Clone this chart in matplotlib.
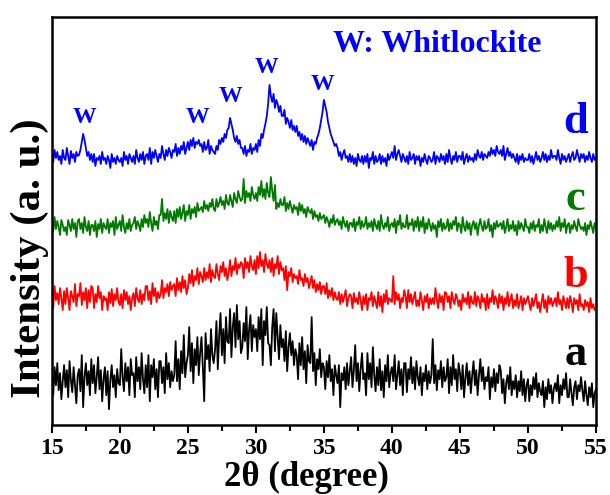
import numpy as np
import matplotlib
matplotlib.use("Agg")
import matplotlib.pyplot as plt
from matplotlib.ticker import MultipleLocator

plt.rcParams['font.family'] = ['Liberation Serif', 'DejaVu Serif']
plt.rcParams['font.weight'] = 'bold'

# 2-theta grid, 0.1 degree steps from 15 to 55 (one row = one degree)
two_theta = np.round(np.arange(15, 55.001, 0.1), 1)

# sample a (black)
int_a = [48, 30, 58, 40, 62, 35, 52, 26, 44, 60,
         38, 55, 28, 64, 45, 33, 58, 40, 22, 50,
         56, 34, 70, 18, 48, 62, 40, 54, 30, 66,
         42, 60, 32, 48, 68, 36, 55, 24, 46, 58,
         30, 54, 16, 45, 60, 38, 50, 28, 56, 42,
         40, 76, 48, 34, 62, 44, 58, 30, 66, 50,
         52, 28, 68, 44, 58, 36, 72, 46, 32, 60,
         38, 70, 24, 60, 48, 66, 36, 56, 28, 64,
         64, 42, 58, 32, 72, 46, 62, 38, 54, 44,
         50, 84, 44, 66, 36, 74, 52, 90, 48, 62,
         70, 98, 54, 82, 42, 76, 60, 88, 50, 72,
         88, 58, 24, 92, 66, 80, 54, 96, 70, 62,
         76, 104, 56, 90, 112, 70, 96, 62, 108, 84,
         82, 116, 68, 98, 112, 78, 120, 86, 104, 72,
         78, 102, 84, 118, 66, 96, 110, 74, 100, 88,
         96, 74, 108, 86, 116, 60, 104, 90, 118, 82,
         80, 60, 98, 116, 74, 112, 88, 66, 100, 78,
         86, 64, 94, 54, 78, 92, 70, 84, 60, 76,
         70, 46, 82, 60, 88, 56, 74, 42, 80, 64,
         62, 108, 54, 72, 40, 66, 56, 76, 48, 62,
         58, 36, 64, 48, 70, 44, 56, 30, 60, 50,
         42, 60, 18, 52, 45, 58, 36, 62, 40, 54,
         68, 38, 55, 80, 44, 62, 34, 56, 72, 46,
         52, 30, 72, 46, 62, 38, 78, 50, 34, 58,
         40, 66, 35, 54, 28, 60, 44, 70, 38, 52,
         58, 44, 70, 36, 50, 64, 40, 56, 30, 62,
         62, 33, 56, 46, 68, 42, 58, 36, 64, 48,
         40, 58, 30, 52, 44, 60, 36, 54, 42, 50,
         86, 42, 60, 35, 55, 46, 64, 38, 58, 44,
         48, 66, 32, 58, 40, 70, 46, 56, 34, 62,
         52, 36, 60, 28, 47, 62, 40, 54, 32, 50,
         64, 40, 55, 30, 50, 66, 44, 58, 36, 48,
         44, 58, 26, 48, 38, 56, 34, 52, 42, 60,
         55, 32, 46, 22, 42, 50, 36, 58, 30, 44,
         36, 50, 28, 44, 34, 54, 30, 46, 24, 40,
         46, 24, 40, 30, 48, 36, 52, 28, 42, 34,
         30, 44, 18, 38, 26, 46, 32, 40, 22, 36,
         42, 34, 50, 22, 40, 30, 46, 36, 52, 28,
         28, 46, 32, 20, 38, 44, 26, 40, 34, 48,
         35, 24, 44, 30, 20, 38, 28, 42, 18, 32,
         36]

# sample b (red)
int_b = [48, 30, 52, 38, 45, 34, 50, 40, 28, 47,
         34, 50, 40, 28, 47, 42, 36, 54, 32, 44,
         42, 55, 33, 46, 38, 50, 30, 48, 36, 52,
         50, 30, 44, 36, 52, 40, 46, 28, 42, 38,
         40, 28, 46, 35, 49, 32, 44, 38, 50, 36,
         33, 44, 30, 48, 38, 46, 34, 42, 28, 40,
         45, 32, 50, 40, 36, 48, 34, 44, 38, 52,
         52, 38, 47, 34, 55, 42, 50, 36, 46, 40,
         44, 58, 40, 50, 46, 54, 42, 56, 48, 52,
         54, 42, 60, 48, 56, 46, 62, 50, 58, 44,
         50, 64, 55, 68, 52, 62, 58, 70, 54, 66,
         62, 56, 70, 58, 66, 60, 74, 56, 68, 62,
         60, 74, 64, 58, 72, 66, 76, 62, 70, 58,
         66, 78, 62, 72, 68, 80, 64, 74, 70, 76,
         74, 60, 80, 70, 76, 66, 82, 72, 68, 78,
         64, 82, 70, 86, 72, 78, 66, 84, 74, 70,
         78, 66, 80, 62, 74, 70, 82, 64, 76, 68,
         70, 58, 72, 48, 66, 62, 70, 56, 64, 60,
         62, 54, 68, 58, 60, 52, 64, 56, 60, 50,
         56, 62, 50, 58, 46, 54, 48, 56, 44, 52,
         52, 44, 55, 40, 48, 42, 50, 38, 46, 40,
         38, 46, 34, 44, 36, 42, 48, 32, 40, 44,
         42, 30, 45, 36, 40, 34, 46, 38, 28, 42,
         34, 44, 28, 40, 38, 46, 32, 42, 36, 30,
         46, 32, 42, 26, 44, 36, 48, 34, 40, 38,
         36, 62, 34, 46, 38, 44, 30, 40, 36, 48,
         42, 30, 48, 36, 44, 34, 40, 46, 32, 38,
         32, 46, 38, 28, 42, 36, 44, 30, 40, 34,
         40, 34, 50, 38, 30, 44, 36, 42, 28, 46,
         45, 36, 42, 30, 46, 38, 34, 44, 40, 32,
         38, 28, 44, 36, 40, 34, 46, 30, 42, 36,
         34, 46, 32, 42, 38, 30, 44, 36, 40, 28,
         44, 30, 40, 36, 48, 34, 42, 38, 30, 44,
         35, 42, 28, 40, 34, 46, 32, 38, 44, 30,
         38, 32, 44, 30, 36, 42, 28, 40, 34, 38,
         42, 34, 28, 40, 32, 38, 44, 30, 36, 26,
         36, 44, 30, 38, 26, 42, 34, 40, 32, 36,
         40, 32, 46, 34, 38, 28, 42, 36, 30, 40,
         30, 42, 36, 26, 40, 34, 38, 28, 44, 32,
         34, 28, 38, 32, 36, 26, 40, 30, 34, 28,
         30]

# sample c (green)
int_c = [44, 36, 50, 38, 46, 40, 32, 47, 42, 36,
         40, 32, 47, 42, 36, 48, 38, 44, 30, 46,
         48, 38, 44, 34, 50, 40, 36, 46, 32, 42,
         42, 36, 46, 30, 43, 38, 48, 34, 44, 40,
         38, 48, 34, 44, 40, 46, 32, 50, 38, 42,
         46, 36, 52, 40, 34, 44, 38, 48, 36, 42,
         44, 50, 38, 46, 42, 36, 48, 40, 52, 44,
         48, 40, 55, 44, 36, 50, 42, 46, 38, 52,
         52, 68, 46, 54, 48, 58, 44, 56, 50, 46,
         56, 44, 58, 50, 60, 48, 54, 62, 46, 56,
         52, 62, 48, 58, 54, 60, 50, 64, 56, 58,
         60, 55, 66, 58, 62, 56, 64, 60, 68, 58,
         56, 68, 60, 64, 70, 62, 66, 58, 72, 64,
         62, 72, 66, 60, 74, 68, 64, 76, 70, 66,
         68, 88, 64, 76, 70, 74, 66, 80, 72, 68,
         74, 66, 80, 72, 86, 70, 78, 68, 84, 74,
         70, 90, 76, 66, 82, 58, 64, 60, 68, 62,
         62, 70, 56, 64, 58, 66, 60, 54, 62, 58,
         60, 52, 64, 56, 62, 54, 58, 50, 60, 56,
         54, 58, 48, 56, 50, 52, 46, 54, 48, 50,
         52, 44, 50, 46, 40, 48, 44, 52, 42, 46,
         48, 42, 46, 38, 50, 44, 40, 46, 36, 44,
         44, 40, 48, 36, 45, 42, 50, 38, 46, 40,
         42, 50, 38, 44, 40, 46, 36, 48, 42, 38,
         46, 36, 52, 42, 38, 44, 40, 50, 36, 42,
         44, 40, 48, 34, 46, 42, 52, 38, 44, 40,
         40, 52, 38, 44, 42, 48, 36, 46, 40, 50,
         36, 46, 40, 50, 34, 44, 38, 48, 42, 36,
         44, 38, 42, 30, 46, 40, 48, 36, 44, 38,
         40, 48, 36, 44, 38, 46, 42, 50, 36, 44,
         42, 34, 50, 40, 36, 46, 38, 44, 32, 42,
         46, 38, 44, 32, 42, 48, 40, 36, 46, 38,
         40, 48, 36, 42, 30, 44, 38, 46, 40, 42,
         44, 38, 46, 34, 40, 48, 36, 42, 38, 46,
         36, 42, 32, 46, 38, 44, 40, 36, 48, 40,
         40, 34, 44, 38, 46, 36, 42, 40, 48, 34,
         42, 36, 48, 40, 34, 46, 38, 44, 36, 42,
         38, 46, 40, 50, 36, 44, 40, 48, 34, 42,
         44, 34, 42, 38, 46, 40, 36, 48, 42, 38,
         40, 36, 44, 32, 42, 38, 46, 40, 34, 44,
         38]

# sample d (blue)
int_d = [46, 38, 50, 42, 48, 40, 44, 36, 50, 42,
         40, 52, 44, 36, 49, 42, 46, 38, 48, 44,
         45, 50, 58, 66, 60, 52, 44, 48, 40, 46,
         38, 46, 34, 42, 40, 44, 36, 48, 40, 42,
         36, 44, 40, 32, 46, 38, 42, 36, 44, 40,
         38, 42, 34, 48, 40, 44, 36, 46, 42, 38,
         44, 36, 50, 42, 38, 46, 40, 48, 36, 44,
         46, 40, 52, 36, 48, 42, 50, 44, 38, 46,
         42, 54, 46, 40, 50, 44, 52, 48, 42, 50,
         48, 56, 44, 52, 46, 54, 50, 58, 46, 52,
         58, 50, 60, 54, 62, 52, 58, 56, 60, 54,
         56, 48, 58, 50, 52, 60, 46, 54, 50, 48,
         46, 54, 50, 60, 56, 62, 58, 66, 62, 70,
         72, 82, 76, 70, 62, 58, 64, 56, 60, 52,
         52, 46, 54, 44, 50, 48, 56, 46, 52, 50,
         56, 48, 60, 54, 66, 62, 70, 76, 84, 96,
         115, 104, 98, 106, 92, 100, 96, 88, 94, 84,
         84, 90, 76, 82, 78, 72, 80, 70, 74, 68,
         74, 64, 68, 60, 66, 58, 64, 56, 62, 58,
         54, 60, 50, 58, 56, 62, 66, 72, 80, 88,
         100, 94, 88, 78, 72, 66, 62, 58, 54, 56,
         52, 44, 48, 40, 46, 50, 42, 44, 38, 46,
         38, 44, 36, 42, 34, 46, 40, 38, 44, 36,
         44, 38, 46, 32, 42, 40, 48, 36, 44, 38,
         40, 46, 36, 44, 38, 42, 34, 46, 40, 44,
         48, 42, 54, 40, 46, 50, 44, 38, 46, 42,
         38, 44, 36, 48, 40, 42, 46, 36, 44, 40,
         44, 34, 42, 38, 46, 40, 36, 44, 42, 38,
         40, 48, 36, 44, 42, 38, 46, 40, 44, 36,
         46, 38, 50, 42, 36, 44, 40, 48, 38, 44,
         44, 40, 48, 36, 42, 46, 38, 44, 40, 42,
         38, 46, 40, 50, 44, 42, 48, 40, 46, 44,
         42, 48, 44, 52, 46, 50, 44, 54, 48, 46,
         50, 44, 54, 40, 46, 52, 44, 48, 42, 46,
         42, 38, 46, 36, 44, 40, 46, 38, 42, 40,
         40, 46, 38, 44, 36, 42, 48, 40, 44, 38,
         42, 48, 40, 46, 38, 44, 40, 50, 42, 44,
         44, 40, 50, 42, 36, 46, 40, 44, 38, 42,
         46, 38, 44, 48, 40, 42, 50, 44, 38, 46,
         42, 46, 38, 44, 40, 48, 42, 38, 46, 40,
         42]

labels = ['a', 'b', 'c', 'd']
colors = ['black', '#ff0000', '#007a00', '#0000ff']
offsets = [0, 87, 158, 225]

# whitlockite peak positions (2theta) and label heights
w_pos = [17.4, 25.7, 28.1, 30.8, 34.9]
w_height = [307, 307, 328, 357, 340]

fig = plt.figure(figsize=(6.1, 4.95), dpi=100)
ax = fig.add_axes([0.085, 0.141, 0.892, 0.825])

for ys, col, off in zip([int_a, int_b, int_c, int_d], colors, offsets):
    ax.plot(two_theta, np.array(ys) + off, color=col, lw=1.3)

label_y = [60, 138, 215, 292]
for lab, col, ly in zip(labels, colors, label_y):
    ax.text(53.5, ly, lab, color=col, fontsize=32, fontweight='bold',
            ha='center', va='baseline')

for xp, yp in zip(w_pos, w_height):
    ax.text(xp, yp, 'W', color='#0000ff', fontsize=17, fontweight='bold',
            ha='center', va='center')
ax.text(43.3, 380, 'W: Whitlockite', color='#0000ff', fontsize=23,
        fontweight='bold', ha='center', va='center')

ax.set_xlim(15, 55)
ax.set_ylim(0, 408)
ax.xaxis.set_major_locator(MultipleLocator(5))
ax.xaxis.set_minor_locator(MultipleLocator(2.5))
ax.tick_params(axis='x', which='major', direction='out', length=6, width=1.5,
               labelsize=17, top=False)
ax.tick_params(axis='x', which='minor', direction='out', length=4, width=1.5,
               top=False)
ax.set_yticks([])
for sp in ax.spines.values():
    sp.set_linewidth(1.8)

ax.set_xlabel('2θ (degree)', fontsize=25, fontweight='bold')
ax.xaxis.set_label_coords(0.467, -0.088, transform=ax.transAxes)
ax.xaxis.label.set_va('top')
ax.set_ylabel('Intensity (a. u.)', fontsize=31, fontweight='bold')
ax.yaxis.set_label_coords(-0.006, 0.41, transform=ax.transAxes)
ax.yaxis.label.set_va('bottom')

fig.savefig('out.png', dpi=100)
